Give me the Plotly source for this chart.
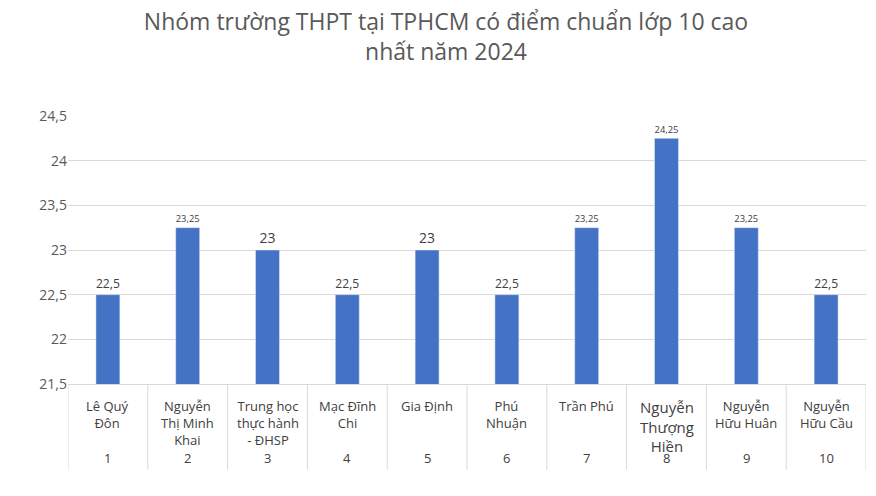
import plotly.graph_objects as go

names = ["Lê Quý<br>Đôn", "Nguyễn<br>Thị Minh<br>Khai", "Trung học<br>thực hành<br>- ĐHSP", "Mạc Đĩnh<br>Chi",
         "Gia Định", "Phú<br>Nhuận", "Trần Phú", "Nguyễn<br>Thượng<br>Hiền", "Nguyễn<br>Hữu Huân", "Nguyễn<br>Hữu Cầu"]
ranks = ["1", "2", "3", "4", "5", "6", "7", "8", "9", "10"]
scores = [22.5, 23.25, 23, 22.5, 23, 22.5, 23.25, 24.25, 23.25, 22.5]
score_txt = [str(v).replace(".", ",") for v in scores]

font = "Open Sans"
x = list(range(len(scores)))
fig = go.Figure(go.Bar(x=x, y=scores, width=0.3, marker_color="#4472C4",
                       text=score_txt, textposition="outside", cliponaxis=False,
                       textfont=dict(size=14, color="#404040", family=font), hoverinfo="skip"))

shapes = []
for i in range(len(scores) + 1):
    shapes.append(dict(type="line", xref="x", yref="paper", x0=i - 0.5, x1=i - 0.5, y0=0, y1=-0.32,
                       line=dict(color="#D9D9D9", width=1)))
ann = []
for i, (n, r) in enumerate(zip(names, ranks)):
    ann.append(dict(x=i, y=-0.04, xref="x", yref="paper", text=n, showarrow=False, yanchor="top",
                    font=dict(size=15 if i == 7 else 13, color="#404040", family=font)))
    ann.append(dict(x=i, y=-0.275, xref="x", yref="paper", text=r, showarrow=False, yanchor="middle",
                    font=dict(size=13, color="#404040", family=font)))

fig.update_layout(
    width=876, height=496, margin=dict(l=60, r=18, t=108, b=120),
    paper_bgcolor="white", plot_bgcolor="white", showlegend=False,
    font=dict(family=font, color="#595959"),
    title=dict(text="Nhóm trường THPT tại TPHCM có điểm chuẩn lớp 10 cao<br>nhất năm 2024",
               x=0.5, xanchor="center", y=0.955, yanchor="top", font=dict(size=23, color="#595959")),
    xaxis=dict(range=[-0.5, 9.5], showticklabels=False, showgrid=False, zeroline=False,
               showline=True, linecolor="#D9D9D9"),
    yaxis=dict(range=[21.5, 24.5], dtick=0.5, tickformat=",", separatethousands=False,
               tickvals=[21.5, 22, 22.5, 23, 23.5, 24, 24.5],
               ticktext=["21,5", "22", "22,5", "23", "23,5", "24", "24,5"],
               gridcolor="#D9D9D9", zeroline=False, tickfont=dict(size=14, color="#595959")),
    shapes=shapes, annotations=ann,
)
fig.write_html("out.html")
